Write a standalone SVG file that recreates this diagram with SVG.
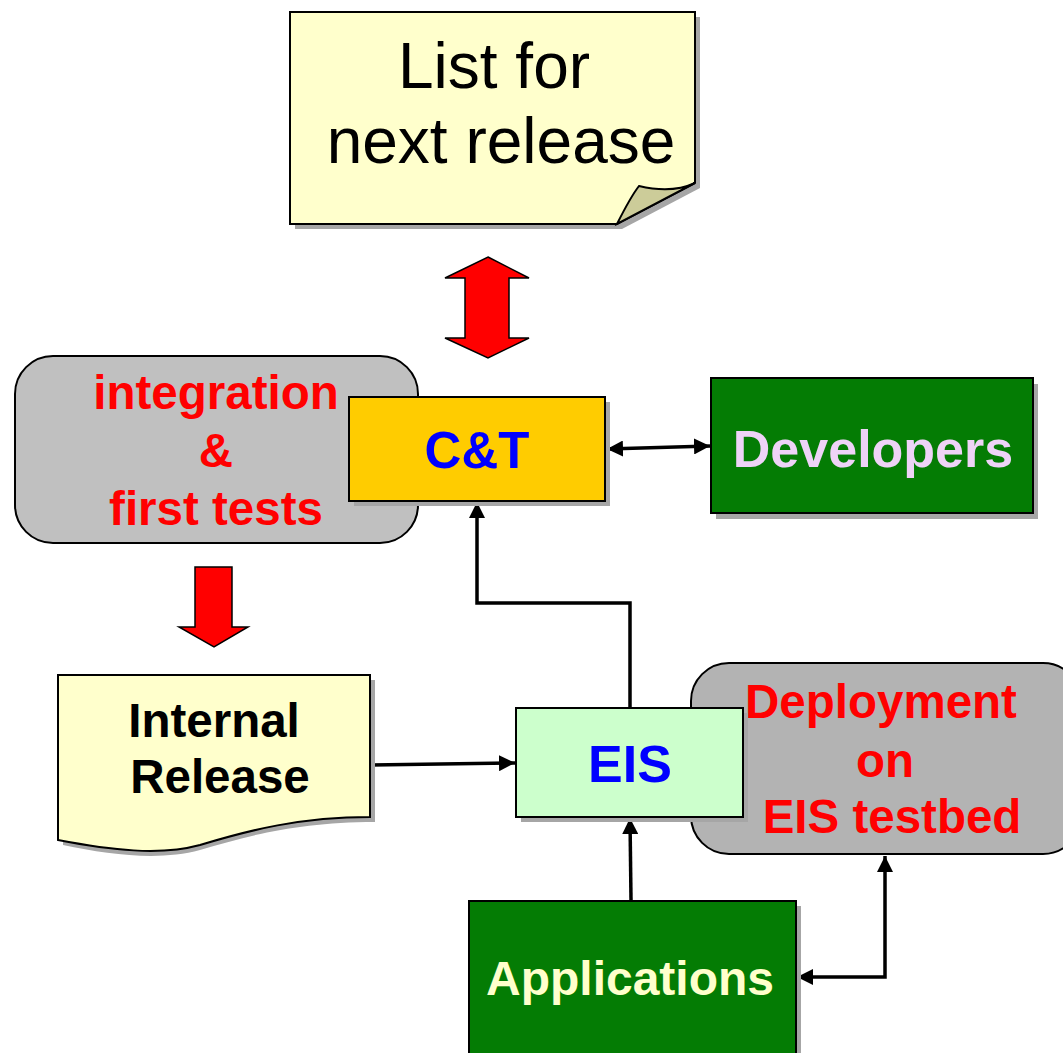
<svg xmlns="http://www.w3.org/2000/svg" width="1063" height="1053" viewBox="0 0 1063 1053">
  <style>
    .lbl { font-family: "Liberation Sans", Arial, sans-serif; font-weight: bold; text-anchor: middle; }
    .box { stroke: #000; stroke-width: 2; }
    .shadow { fill: #a6a6a6; }
    .panel { stroke: #000; stroke-width: 2; }
    .wire { fill: none; stroke: #000; stroke-width: 3.5; }
    .big { fill: #ff0000; stroke: #000; stroke-width: 1.5; stroke-linejoin: miter; }
  </style>
  <defs>
    <marker id="tip" markerUnits="userSpaceOnUse" markerWidth="18" markerHeight="16" refX="16" refY="8" orient="auto-start-reverse">
      <path d="M0,0 L16,8 L0,16 Z" fill="#000"/>
    </marker>
  </defs>

  <!-- background panels -->
  <g id="integration">
    <rect class="panel" x="15" y="356" width="403" height="187" rx="38" fill="#c0c0c0"/>
    <text class="lbl" x="216" y="409" font-size="47.5" fill="#ff0000">integration</text>
    <text class="lbl" x="216" y="467" font-size="47.5" fill="#ff0000">&amp;</text>
    <text class="lbl" x="216" y="525" font-size="47.5" fill="#ff0000">first tests</text>
  </g>
  <g id="deployment">
    <rect class="panel" x="691" y="663" width="390" height="191" rx="38" fill="#b3b3b3"/>
    <text class="lbl" x="881" y="718" font-size="47.5" fill="#ff0000">Deployment</text>
    <text class="lbl" x="885" y="777" font-size="47.5" fill="#ff0000">on</text>
    <text class="lbl" x="892" y="833" font-size="47.5" fill="#ff0000">EIS testbed</text>
  </g>

  <!-- connectors -->
  <g id="connectors">
    <line class="wire" x1="607" y1="449" x2="710" y2="446" marker-start="url(#tip)" marker-end="url(#tip)"/>
    <line class="wire" x1="371" y1="765" x2="515" y2="763" marker-end="url(#tip)"/>
    <polyline class="wire" points="630,708 630,603 477,603 477,502" marker-end="url(#tip)"/>
    <line class="wire" x1="631" y1="900" x2="630" y2="818" marker-end="url(#tip)"/>
    <polyline class="wire" points="797,977 885,977 885,856" marker-start="url(#tip)" marker-end="url(#tip)"/>
    <polygon class="big" points="488,257 529,278 509,278 509,338 529,338 488,358 445,338 465,338 465,278 445,278"/>
    <polygon class="big" points="195,567 232,567 232,627 248,627 214,647 179,627 195,627"/>
  </g>

  <!-- next release note with curled corner -->
  <g id="next-release">
    <path class="shadow" d="M295,17 H700 V188 L622,229 H295 Z"/>
    <path class="box" d="M290,12 H695 V183 L617,224 H290 Z" fill="#ffffcc"/>
    <path class="box" d="M617,224 C625,208 632,195 639,186 C660,191 680,190 695,183 Z" fill="#cccc99" stroke-width="1.5"/>
    <text x="494" y="88" font-family="'Liberation Sans', Arial, sans-serif" font-size="64" text-anchor="middle" fill="#000">List for</text>
    <text x="501" y="163" font-family="'Liberation Sans', Arial, sans-serif" font-size="64" text-anchor="middle" fill="#000">next release</text>
  </g>

  <g id="ct">
    <rect class="shadow" x="354" y="402" width="256" height="104"/>
    <rect class="box" x="349" y="397" width="256" height="104" fill="#ffcc00"/>
    <text class="lbl" x="477" y="468" font-size="51" fill="#0000ff">C&amp;T</text>
  </g>

  <g id="developers">
    <rect class="shadow" x="716" y="384" width="322" height="135"/>
    <rect class="box" x="711" y="378" width="322" height="135" fill="#047c04"/>
    <text class="lbl" x="873" y="467" font-size="52" fill="#eed3f7">Developers</text>
  </g>

  <g id="internal-release">
    <path class="shadow" d="M63,680 H375 V822 C300,822 250,835 200,850 C160,861 110,855 63,845 Z"/>
    <path class="box" d="M58,675 H370 V817 C300,817 250,830 200,845 C160,856 110,850 58,840 Z" fill="#ffffcc"/>
    <text class="lbl" x="214" y="737" font-size="47.5" fill="#000">Internal</text>
    <text class="lbl" x="220" y="793" font-size="47.5" fill="#000">Release</text>
  </g>

  <g id="eis">
    <rect class="shadow" x="521" y="713" width="227" height="109"/>
    <rect class="box" x="516" y="708" width="227" height="109" fill="#ccffcc"/>
    <text class="lbl" x="630" y="782" font-size="52" fill="#0000ff">EIS</text>
  </g>

  <g id="applications">
    <rect class="shadow" x="474" y="906" width="327" height="160"/>
    <rect class="box" x="469" y="901" width="327" height="160" fill="#047c04"/>
    <text class="lbl" x="630" y="995" font-size="48" fill="#ffffcc">Applications</text>
  </g>
</svg>
